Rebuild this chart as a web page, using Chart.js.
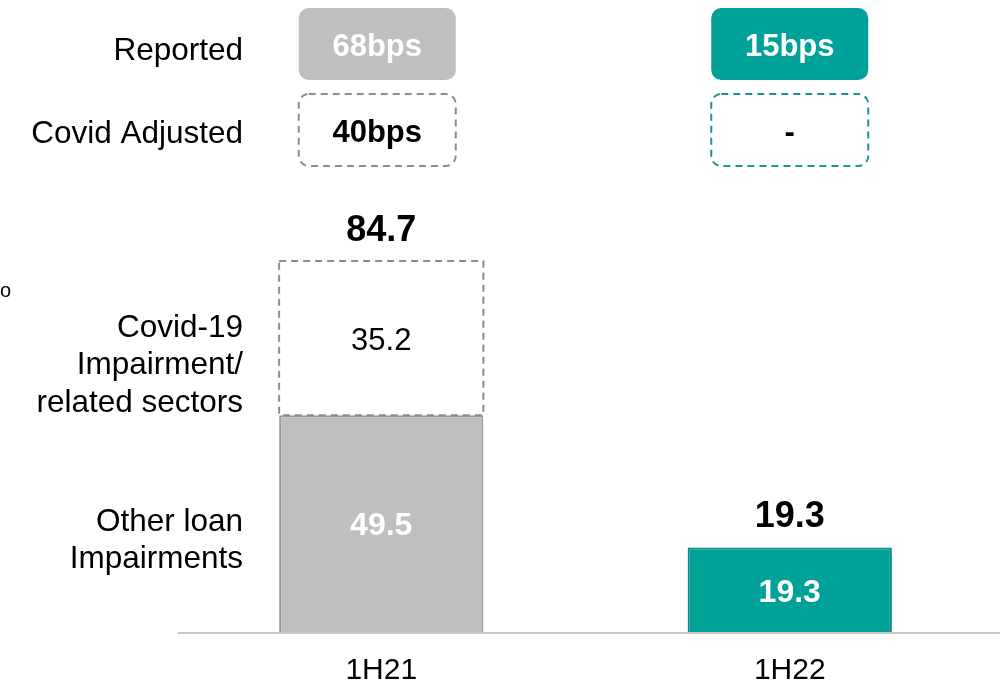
<!DOCTYPE html>
<html>
<head>
<meta charset="utf-8">
<script src="https://cdn.jsdelivr.net/npm/chart.js@4.4.1/dist/chart.umd.min.js"></script>
<style>
  body { margin: 0; background: #fff; }
  #wrap { width: 1000px; height: 693px; position: relative; }
</style>
</head>
<body>
<div id="wrap"><canvas id="myChart"></canvas></div>
<script>
// data
const categories = ['1H21', '1H22'];
const otherLoan = [49.5, 19.3];
const covidRelated = [35.2, null];
const totals = [84.7, 19.3];
const reportedBps = ['68bps', '15bps'];
const adjustedBps = ['40bps', '-'];
const yMax = 100;

const grey = '#bfbfbf';
const teal = '#00a199';
const FONT = '"Liberation Sans", Arial, sans-serif';
const DY = 3; // nudge for text baseline

function roundBox(ctx, x, y, w, h, r) {
    ctx.beginPath();
    ctx.moveTo(x + r, y);
    ctx.arcTo(x + w, y, x + w, y + h, r);
    ctx.arcTo(x + w, y + h, x, y + h, r);
    ctx.arcTo(x, y + h, x, y, r);
    ctx.arcTo(x, y, x + w, y, r);
    ctx.closePath();
}

const labelsPlugin = {
    id: 'labelsPlugin',
    beforeDatasetsDraw(chart) {
        // baseline runs to the right edge of the canvas
        const ctx = chart.ctx;
        const y0 = chart.scales.y.getPixelForValue(0);
        ctx.save();
        ctx.strokeStyle = '#c8c8c8';
        ctx.lineWidth = 2;
        ctx.beginPath();
        ctx.moveTo(178, y0 + 1);
        ctx.lineTo(1000, y0 + 1);
        ctx.stroke();
        ctx.restore();
    },
    afterDatasetsDraw(chart) {
        const ctx = chart.ctx;
        const xs = chart.scales.x;
        const other = chart.getDatasetMeta(0).data;
        const covid = chart.getDatasetMeta(1).data;
        ctx.save();

        // dashed outline for covid part
        covid.forEach((el, i) => {
            if (covidRelated[i] == null) return;
            const w = el.width;
            ctx.setLineDash([7, 5]);
            ctx.strokeStyle = '#8c8c8c';
            ctx.lineWidth = 2;
            ctx.strokeRect(el.x - w / 2, el.y, w, el.base - el.y);
            ctx.setLineDash([]);
        });

        ctx.textAlign = 'center';
        ctx.textBaseline = 'middle';

        // values inside bars
        other.forEach((el, i) => {
            ctx.font = 'bold 32px ' + FONT;
            ctx.fillStyle = '#fff';
            ctx.fillText(otherLoan[i].toFixed(1), el.x, (el.y + el.base) / 2 + DY);
        });
        covid.forEach((el, i) => {
            if (covidRelated[i] == null) return;
            ctx.font = '31px ' + FONT;
            ctx.fillStyle = '#000';
            ctx.fillText(covidRelated[i].toFixed(1), el.x, (el.y + el.base) / 2 + DY);
        });

        // totals
        categories.forEach((c, i) => {
            let top = other[i].y;
            if (covidRelated[i] != null) top = Math.min(top, covid[i].y);
            ctx.font = 'bold 36px ' + FONT;
            ctx.fillStyle = '#000';
            ctx.fillText(totals[i].toFixed(1), other[i].x, top - 33 + DY);
        });

        // bps boxes at top
        const bw = 157, bh = 72;
        categories.forEach((c, i) => {
            const cx = xs.getPixelForValue(i) - (i === 0 ? 4 : 0);
            const col = i === 0 ? grey : teal;
            roundBox(ctx, cx - bw / 2, 8, bw, bh, 10);
            ctx.fillStyle = col;
            ctx.fill();
            ctx.font = 'bold 31px ' + FONT;
            ctx.fillStyle = '#fff';
            ctx.fillText(reportedBps[i], cx, 44 + DY);

            roundBox(ctx, cx - bw / 2, 94, bw, bh, 10);
            ctx.setLineDash([7, 5]);
            ctx.lineWidth = 2;
            ctx.strokeStyle = i === 0 ? '#8c8c8c' : '#1a9494';
            ctx.stroke();
            ctx.setLineDash([]);
            ctx.fillStyle = '#000';
            ctx.fillText(adjustedBps[i], cx, 130 + DY);
        });

        // left labels
        ctx.font = '31.5px ' + FONT;
        ctx.textAlign = 'right';
        ctx.fillStyle = '#000';
        ctx.fillText('Reported', 243, 48 + DY);
        ctx.fillText('Covid Adjusted', 243, 131 + DY);
        ctx.fillText('Covid-19', 243, 325 + DY);
        ctx.fillText('Impairment/', 243, 362 + DY);
        ctx.fillText('related sectors', 243, 400 + DY);
        ctx.fillText('Other loan', 243, 519 + DY);
        ctx.fillText('Impairments', 243, 556 + DY);

        ctx.textAlign = 'left';
        ctx.font = '20px ' + FONT;
        ctx.fillText('o', 0, 288 + DY);

        ctx.restore();
    }
};

const myChart = new Chart('myChart', {
    type: 'bar',
    data: {
        labels: categories,
        datasets: [{
            label: 'Other loan Impairments',
            data: otherLoan,
            backgroundColor: [grey, teal],
            borderColor: ['#9a9a9a', '#0d8a84'],
            borderWidth: 2,
            borderSkipped: 'bottom'
        }, {
            label: 'Covid-19 Impairment/related sectors',
            data: covidRelated,
            backgroundColor: '#ffffff',
            borderWidth: 0
        }]
    },
    options: {
        responsive: true,
        maintainAspectRatio: false,
        animation: false,
        layout: {
            padding: { left: 177, top: 194, right: 6, bottom: 4 }
        },
        datasets: {
            bar: { categoryPercentage: 1, barPercentage: 0.5 }
        },
        scales: {
            x: {
                stacked: true,
                grid: { display: false, drawTicks: false },
                border: { display: false },
                ticks: {
                    color: '#000',
                    font: { family: FONT, size: 30 },
                    padding: 21
                },
                afterFit(scale) { scale.height = 57; }
            },
            y: {
                stacked: true,
                display: false,
                min: 0,
                max: yMax
            }
        },
        plugins: {
            legend: false,
            tooltip: { enabled: false }
        }
    },
    plugins: [labelsPlugin]
});
</script>
</body>
</html>
